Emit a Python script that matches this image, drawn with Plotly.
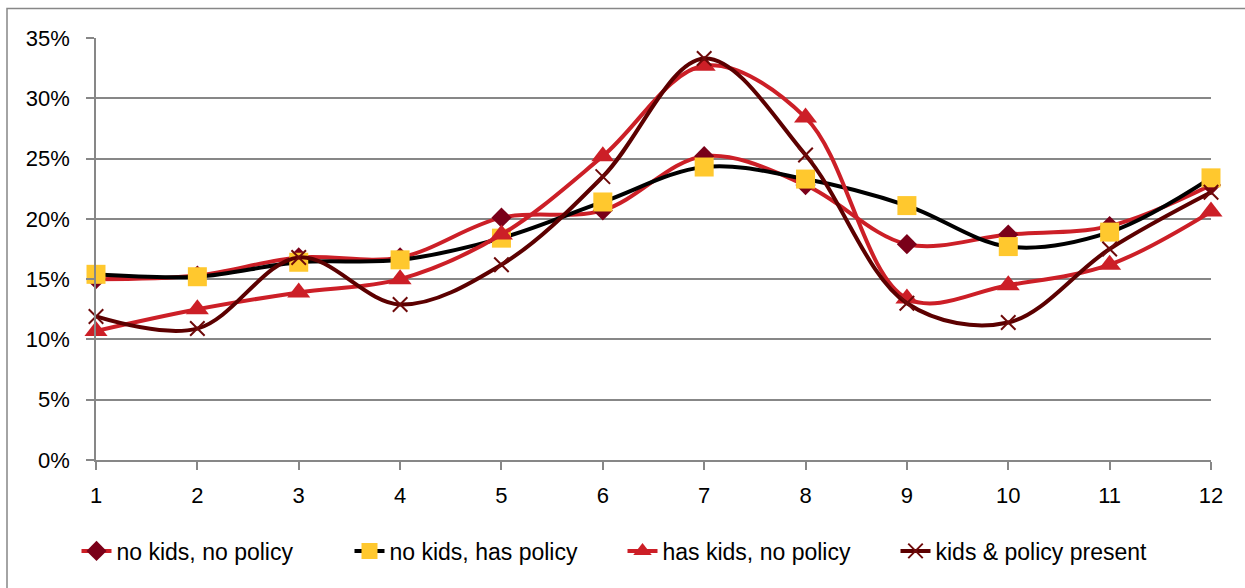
import plotly.graph_objects as go

months = [1, 2, 3, 4, 5, 6, 7, 8, 9, 10, 11, 12]

no_kids_no_policy = [0.150, 0.153, 0.168, 0.168, 0.201, 0.207, 0.252, 0.228, 0.179, 0.187, 0.194, 0.228]
no_kids_has_policy = [0.154, 0.152, 0.164, 0.166, 0.184, 0.214, 0.243, 0.233, 0.211, 0.177, 0.189, 0.234]
has_kids_no_policy = [0.107, 0.125, 0.139, 0.150, 0.187, 0.252, 0.327, 0.284, 0.134, 0.145, 0.162, 0.206]
kids_and_policy = [0.119, 0.109, 0.168, 0.129, 0.162, 0.235, 0.333, 0.253, 0.130, 0.114, 0.175, 0.222]

y_ticks = [0, 0.05, 0.10, 0.15, 0.20, 0.25, 0.30, 0.35]

RED = "#CC1F27"
CRIMSON = "#7A0019"
GOLD = "#FFC82E"
MAROON = "#5C0000"
AXIS_GREY = "#878787"
FONT = "Liberation Sans"

series = [
    dict(name="no kids, no policy", y=no_kids_no_policy, line=RED,
         marker=dict(symbol="diamond", size=15.5, color=CRIMSON)),
    dict(name="no kids, has policy", y=no_kids_has_policy, line="#000000",
         marker=dict(symbol="square", size=19, color=GOLD)),
    dict(name="has kids, no policy", y=has_kids_no_policy, line=RED,
         marker=dict(symbol="triangle-up", size=20, color=RED)),
    dict(name="kids & policy present", y=kids_and_policy, line=MAROON,
         marker=dict(symbol="x-thin", size=14.5, color="#6E0A0A",
                     line=dict(width=2, color="#6E0A0A"))),
]

fig = go.Figure()
for s in series:
    fig.add_trace(go.Scatter(
        x=months, y=s["y"], name=s["name"], mode="lines+markers",
        line=dict(color=s["line"], width=4, shape="spline", smoothing=1.0),
        marker=s["marker"], cliponaxis=False,
    ))

fig.update_layout(
    width=1245, height=588,
    margin=dict(l=96, r=34, t=38, b=128, autoexpand=False),
    paper_bgcolor="white", plot_bgcolor="white",
    font=dict(family=FONT, size=22, color="#000000"),
    showlegend=True,
    legend=dict(
        orientation="h", xref="container", yref="container",
        x=0.5, xanchor="center", y=0.063, yanchor="middle",
        font=dict(family=FONT, size=23, color="#000000"),
        entrywidth=228, entrywidthmode="pixels",
        bgcolor="rgba(0,0,0,0)",
    ),
    xaxis=dict(
        range=[1, 12], tickmode="array", tickvals=months,
        showgrid=False, zeroline=False,
        showline=True, linecolor=AXIS_GREY, linewidth=1.5,
        ticks="outside", ticklen=8, tickwidth=1.5, tickcolor=AXIS_GREY,
        tickfont=dict(family=FONT, size=22, color="#000000"),
        ticklabelstandoff=7,
    ),
    yaxis=dict(
        range=[0, 0.35], tickmode="array", tickvals=y_ticks, tickformat=".0%",
        showgrid=True, gridcolor=AXIS_GREY, gridwidth=1.5, zeroline=False,
        showline=True, linecolor=AXIS_GREY, linewidth=1.5,
        ticks="outside", ticklen=8, tickwidth=1.5, tickcolor=AXIS_GREY,
        tickfont=dict(family=FONT, size=22, color="#000000"),
        ticklabelstandoff=12,
    ),
)

# chart-area frame (its right and bottom sides run past the page edge)
fig.add_shape(
    type="rect", xref="paper", yref="paper",
    x0=(7 - 96) / 1115, x1=(1252 - 96) / 1115,
    y0=(460 - 596) / 422, y1=(460 - 8.5) / 422,
    line=dict(color=AXIS_GREY, width=1.5), fillcolor="rgba(0,0,0,0)",
    layer="below",
)

fig.write_html("out.html")
